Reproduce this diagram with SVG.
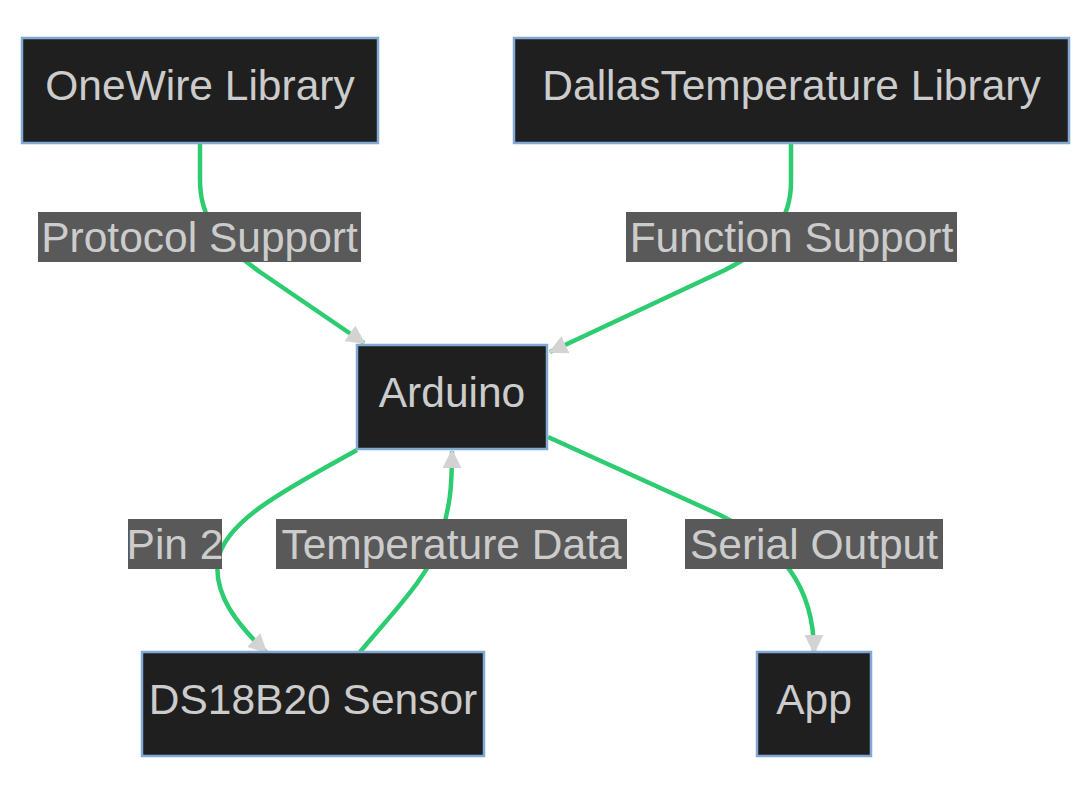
<svg xmlns="http://www.w3.org/2000/svg" width="1091" height="795" viewBox="0 0 1091 795">
<style>
.node rect{fill:#1f1f1f;stroke:#81a9d3;stroke-width:2.5}
.node text{fill:#cccccc;font-family:"Liberation Sans",Arial,sans-serif;font-size:42.5px;text-anchor:middle}
.lbl rect{fill:#595959}
.lbl text{fill:#cccccc;font-family:"Liberation Sans",Arial,sans-serif;font-size:42.5px;text-anchor:middle}
.edge{fill:none;stroke:#2ecc71;stroke-width:4.5}
</style>
<defs>
<marker id="arr" viewBox="0 0 10 10" refX="9" refY="5" markerWidth="19" markerHeight="19" markerUnits="userSpaceOnUse" orient="auto">
<path d="M0,0 L10,5 L0,10 z" fill="#d3d3d3"/>
</marker>
</defs>
<rect width="1091" height="795" fill="#ffffff"/>
<g id="connectors">
<path class="edge" d="M200,143 L200,180 C200,215 215,240 260,272 L364,343" marker-end="url(#arr)"/>
<path class="edge" d="M791,143 L791,182 C791,215 775,245 725,270 L550,352" marker-end="url(#arr)"/>
<path class="edge" d="M357,450 C290,487 225,520 218,560 C213,595 238,625 266,652" marker-end="url(#arr)"/>
<path class="edge" d="M360,652 C395,610 430,575 440,540 C450,505 452,490 452,451" marker-end="url(#arr)"/>
<path class="edge" d="M548,437 L720,515 C780,545 814,585 814,652" marker-end="url(#arr)"/>
</g>
<g id="edge-labels">
<g class="lbl" id="lbl-protocol"><rect x="38" y="212" width="323" height="50"/><text x="199.5" y="252">Protocol Support</text></g>
<g class="lbl" id="lbl-function"><rect x="626" y="212" width="331" height="50"/><text x="791.5" y="252">Function Support</text></g>
<g class="lbl" id="lbl-pin"><rect x="128" y="519" width="94" height="50"/><text x="175" y="559">Pin 2</text></g>
<g class="lbl" id="lbl-temp"><rect x="276" y="519" width="351" height="50"/><text x="451.5" y="559">Temperature Data</text></g>
<g class="lbl" id="lbl-serial"><rect x="685" y="519" width="258" height="50"/><text x="814" y="559">Serial Output</text></g>
</g>
<g class="node" id="onewire"><rect x="22" y="38" width="356" height="105"/><text x="200" y="100">OneWire Library</text></g>
<g class="node" id="dallas"><rect x="514" y="38" width="555" height="105"/><text x="791.5" y="100">DallasTemperature Library</text></g>
<g class="node" id="arduino"><rect x="357" y="345" width="190" height="104"/><text x="452" y="407">Arduino</text></g>
<g class="node" id="ds18b20"><rect x="142" y="652" width="342" height="104"/><text x="313" y="714">DS18B20 Sensor</text></g>
<g class="node" id="app"><rect x="757" y="652" width="114" height="104"/><text x="814" y="714">App</text></g>
</svg>
